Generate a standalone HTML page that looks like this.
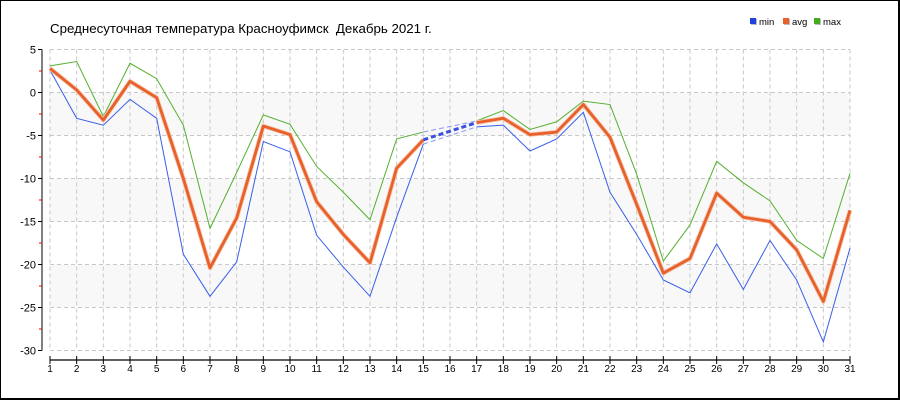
<!DOCTYPE html>
<html><head><meta charset="utf-8"><style>
html,body{margin:0;padding:0;background:#fff}
#c{position:relative;width:900px;height:400px;box-sizing:border-box;border:1px solid #000;border-right:2px solid #000;border-bottom:2px solid #000;overflow:hidden}
</style></head><body><div id="c">
<svg id="s" width="900" height="400" style="position:absolute;left:-1px;top:-1px" font-family="Liberation Sans, sans-serif"></svg>
</div>
<script>
const s=document.getElementById('s');
const X=d=>50+(d-1)*800/30, Y=v=>92.5-8.6*v;
let h='';
h+='<text x="50" y="33" font-size="13.3" fill="#000" style="white-space:pre" xml:space="preserve">Среднесуточная температура Красноуфимск  Декабрь 2021 г.</text>';
[[0,-5],[-10,-15],[-20,-25]].forEach(b=>h+=`<rect x="50" y="${Y(b[0])}" width="800" height="${Y(b[1])-Y(b[0])}" fill="#f8f8f8"/>`);
for(let v=5;v>=-30;v-=5)h+=`<line x1="50" x2="850" y1="${Y(v)}" y2="${Y(v)}" stroke="#c8c8c8" stroke-dasharray="4,3"/>`;
for(let d=1;d<=31;d++)h+=`<line x1="${X(d)}" x2="${X(d)}" y1="${Y(5)}" y2="${Y(-30)}" stroke="#c8c8c8" stroke-dasharray="4,3"/>`;
h+=`<line x1="42" x2="42" y1="${Y(5)}" y2="${Y(-30)}" stroke="#000"/>`;
for(let v=5;v>=-30;v-=5){h+=`<line x1="38" x2="42" y1="${Y(v)}" y2="${Y(v)}" stroke="#000"/><text x="36" y="${Y(v)+4}" font-size="11" text-anchor="end">${v}</text>`;}
for(let v=2.5;v>-30;v-=5)h+=`<line x1="39" x2="42" y1="${Y(v)}" y2="${Y(v)}" stroke="#e00"/>`;
h+=`<line x1="50" x2="850" y1="360" y2="360" stroke="#000" stroke-width="1.3"/>`;
for(let d=1;d<=31;d++)h+=`<line x1="${X(d)}" x2="${X(d)}" y1="356" y2="364" stroke="#000"/><text x="${X(d)}" y="372" font-size="10" text-anchor="middle">${d}</text>`;
const mn=[2.6,-3,-3.8,-0.8,-3,-18.8,-23.7,-19.7,-5.7,-6.9,-16.6,-20.3,-23.7,-14.5,-6,null,-4,-3.8,-6.8,-5.4,-2.3,-11.6,-16.5,-21.8,-23.3,-17.6,-22.9,-17.2,-21.8,-29,-18.1];
const av=[2.8,0.3,-3.2,1.3,-0.6,-10,-20.4,-14.6,-3.9,-4.9,-12.7,-16.5,-19.8,-8.8,-5.5,null,-3.5,-3,-4.9,-4.6,-1.4,-5.2,-13,-21,-19.3,-11.7,-14.5,-15,-18.3,-24.3,-13.7];
const mx=[3.1,3.6,-2.8,3.4,1.6,-3.8,-15.8,-9.3,-2.6,-3.7,-8.6,-11.6,-14.8,-5.4,-4.6,null,-3.3,-2.1,-4.3,-3.4,-1,-1.4,-9.5,-19.6,-15.4,-8,-10.5,-12.6,-17.2,-19.3,-9.4];
function pl(a,st){let segs=[[]];a.forEach((v,i)=>{if(v===null)segs.push([]);else segs[segs.length-1].push(X(i+1)+','+Y(v));});return segs.map(p=>`<polyline points="${p.join(' ')}" fill="none" ${st}/>`).join('');}
function dash(a,st){return `<line x1="${X(15)}" y1="${Y(a[14])}" x2="${X(17)}" y2="${Y(a[16])}" ${st}/>`;}
h+=pl(mn,'stroke="#3a5ee8" stroke-width="1"');
h+=pl(mx,'stroke="#55b030" stroke-width="1"');
h+=pl(av,'stroke="#f5c8b0" stroke-width="4.5" stroke-linejoin="round"');
h+=pl(av,'stroke="#e8602a" stroke-width="2.8" stroke-linejoin="round"');
h+=dash(mn,'stroke="#8899f0" stroke-dasharray="5,3"')+dash(mx,'stroke="#8899f0" stroke-dasharray="5,3"')+dash(av,'stroke="#3a50e0" stroke-width="3" stroke-dasharray="5,3"');
const lg=[[750,'#2040e0','min'],[783,'#e8602a','avg'],[814,'#44aa20','max']];
lg.forEach(l=>h+=`<rect x="${l[0]+1}" y="19" width="6" height="6" fill="#bbb"/><rect x="${l[0]}" y="18" width="6" height="6" fill="${l[1]}"/><text x="${l[0]+9}" y="25" font-size="9.5">${l[2]}</text>`);
s.innerHTML=h;
</script></body></html>
